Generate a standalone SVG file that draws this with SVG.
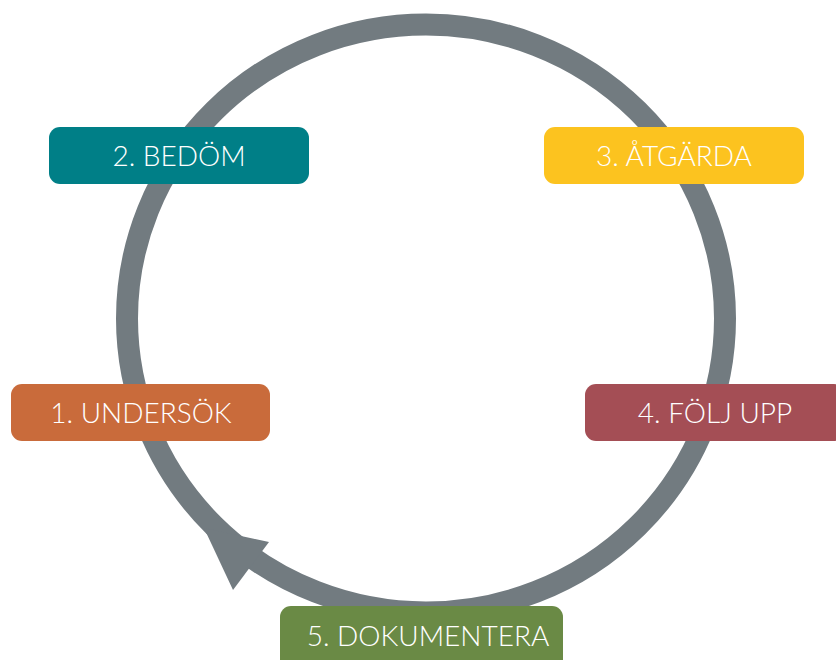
<svg xmlns="http://www.w3.org/2000/svg" width="836" height="660" viewBox="0 0 836 660">
  <style>
    .box { stroke: none; }
    .lbl { font-family: "Lato", "Open Sans", "Liberation Sans", sans-serif; font-weight: 300; font-size: 28px; fill: #ffffff; text-anchor: middle; }
    .ring { fill: none; stroke: #727b80; stroke-width: 22; }
  </style>
  <rect width="836" height="660" fill="#ffffff"/>
  <g id="connectors">
    <ellipse class="ring" cx="426" cy="318.5" rx="299" ry="294"/>
    <polygon points="269,542 233,590 204,528" fill="#727b80"/>
  </g>
  <g id="node1">
    <rect class="box" x="11" y="384" width="259" height="57" rx="11" fill="#c96b3b"/>
    <text class="lbl" x="141" y="423">1. UNDERSÖK</text>
  </g>
  <g id="node2">
    <rect class="box" x="49" y="127" width="260" height="57" rx="11" fill="#007f87"/>
    <text class="lbl" x="179" y="166">2. BEDÖM</text>
  </g>
  <g id="node3">
    <rect class="box" x="544" y="127" width="260" height="57" rx="11" fill="#fcc31f"/>
    <text class="lbl" x="674" y="166">3. ÅTGÄRDA</text>
  </g>
  <g id="node4">
    <rect class="box" x="585" y="384" width="260" height="57" rx="11" fill="#a44e55"/>
    <text class="lbl" x="715" y="423">4. FÖLJ UPP</text>
  </g>
  <g id="node5">
    <rect class="box" x="280" y="606" width="283" height="66" rx="11" fill="#6a8a45"/>
    <text class="lbl" x="428" y="646">5. DOKUMENTERA</text>
  </g>
</svg>
